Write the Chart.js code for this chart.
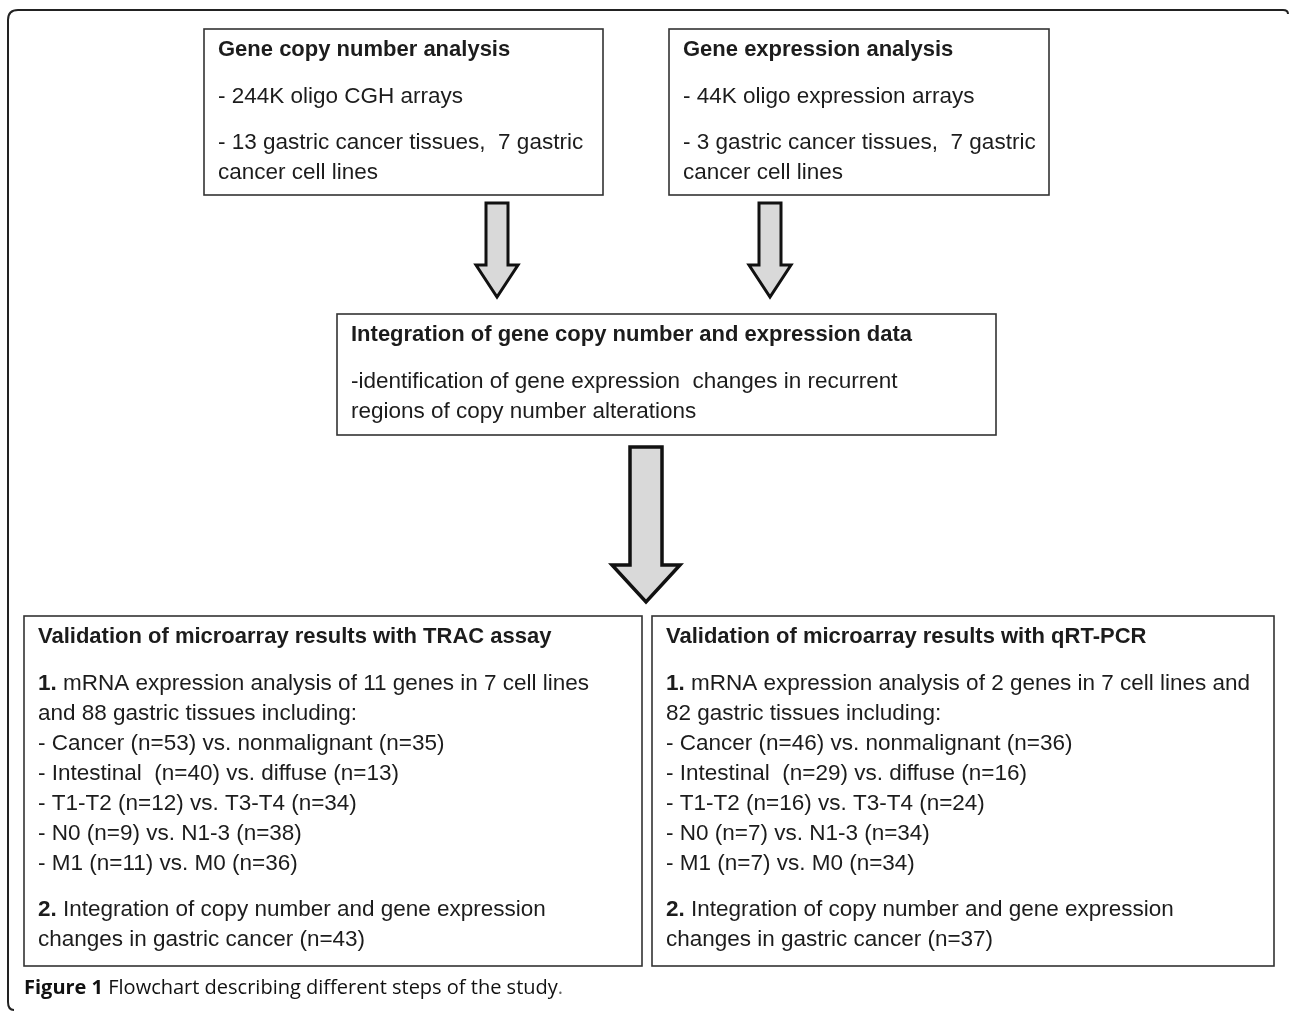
<!DOCTYPE html>
<html>
<head>
<meta charset="utf-8">
<script src="https://cdn.jsdelivr.net/npm/chart.js@4.4.0/dist/chart.umd.min.js"></script>
<style>
  html, body { margin: 0; background: #fff; }
  canvas { display: block; }
</style>
</head>
<body>
<canvas id="flowChart" width="1290" height="1012"></canvas>
<script>
// Box texts
const boxTitles = [
  "Gene copy number analysis",
  "Gene expression analysis",
  "Integration of gene copy number and expression data",
  "Validation of microarray results with TRAC assay",
  "Validation of microarray results with qRT-PCR"
];
const copyNumberText = [
  ["- 244K oligo CGH arrays"],
  ["- 13 gastric cancer tissues,  7 gastric", "cancer cell lines"]
];
const expressionText = [
  ["- 44K oligo expression arrays"],
  ["- 3 gastric cancer tissues,  7 gastric", "cancer cell lines"]
];
const integrationText = [
  ["-identification of gene expression  changes in recurrent", "regions of copy number alterations"]
];
const tracText = [
  ["1. mRNA expression analysis of 11 genes in 7 cell lines",
   "and 88 gastric tissues including:",
   "- Cancer (n=53) vs. nonmalignant (n=35)",
   "- Intestinal  (n=40) vs. diffuse (n=13)",
   "- T1-T2 (n=12) vs. T3-T4 (n=34)",
   "- N0 (n=9) vs. N1-3 (n=38)",
   "- M1 (n=11) vs. M0 (n=36)"],
  ["2. Integration of copy number and gene expression",
   "changes in gastric cancer (n=43)"]
];
const qpcrText = [
  ["1. mRNA expression analysis of 2 genes in 7 cell lines and",
   "82 gastric tissues including:",
   "- Cancer (n=46) vs. nonmalignant (n=36)",
   "- Intestinal  (n=29) vs. diffuse (n=16)",
   "- T1-T2 (n=16) vs. T3-T4 (n=24)",
   "- N0 (n=7) vs. N1-3 (n=34)",
   "- M1 (n=7) vs. M0 (n=34)"],
  ["2. Integration of copy number and gene expression",
   "changes in gastric cancer (n=37)"]
];
const captionBold = "Figure 1";
const captionText = " Flowchart describing different steps of the study";

const boxBodies = [copyNumberText, expressionText, integrationText, tracText, qpcrText];

// layout (in axis units, 0..1290 x 0..1012)
const boxFrames = [
  [204, 29, 603, 195],
  [669, 29, 1049, 195],
  [337, 314, 996, 435],
  [24, 616, 642, 966],
  [652, 616, 1274, 966]
];
// [centerX, top, headStart, tip, shaftHalf, headHalf, lineWidth]
const arrowFrames = [
  [497, 203, 265, 297, 11, 21, 3],
  [770, 203, 265, 297, 11, 21, 3],
  [646, 447, 565, 602, 16, 34, 3.5]
];

const FONT = '"Liberation Sans", sans-serif';
const TEXT_COLOR = "#1c1c1c";

function drawFlow(chart) {
  const ctx = chart.ctx;
  const xs = chart.scales.x, ys = chart.scales.y;
  const px = v => xs.getPixelForValue(v);
  const py = v => ys.getPixelForValue(v);

  ctx.save();
  // outer frame (top + left edges, rounded corners)
  ctx.strokeStyle = "#222";
  ctx.lineWidth = 2;
  ctx.beginPath();
  ctx.moveTo(px(14), py(1010));
  ctx.quadraticCurveTo(px(8), py(1010), px(8), py(1002));
  ctx.lineTo(px(8), py(20));
  ctx.quadraticCurveTo(px(8), py(10), px(18), py(10));
  ctx.lineTo(px(1283), py(10));
  ctx.quadraticCurveTo(px(1288), py(10), px(1288), py(14));
  ctx.stroke();

  // boxes
  boxFrames.forEach((f, i) => {
    const x0 = px(f[0]), y0 = py(f[1]), x1 = px(f[2]), y1 = py(f[3]);
    ctx.fillStyle = "#fff";
    ctx.fillRect(x0, y0, x1 - x0, y1 - y0);
    ctx.strokeStyle = "#333";
    ctx.lineWidth = 1.6;
    ctx.strokeRect(x0, y0, x1 - x0, y1 - y0);

    const tx = px(f[0] + 14);
    ctx.fillStyle = TEXT_COLOR;
    ctx.textBaseline = "middle";
    ctx.textAlign = "left";
    ctx.font = "bold 22px " + FONT;
    ctx.fillText(boxTitles[i], tx, py(f[1] + 21));

    let y = f[1] + 68;
    boxBodies[i].forEach((para, pi) => {
      if (pi > 0) y += 16;
      para.forEach(line => {
        const m = line.match(/^(\d\.)(.*)$/);
        let x = tx;
        if (m) {
          ctx.font = "bold 22.5px " + FONT;
          ctx.fillText(m[1], x, py(y));
          x += ctx.measureText(m[1]).width;
          ctx.font = "22.5px " + FONT;
          ctx.fillText(m[2], x, py(y));
        } else {
          ctx.font = "22.5px " + FONT;
          ctx.fillText(line, x, py(y));
        }
        y += 30;
      });
    });
  });

  // arrows
  arrowFrames.forEach(a => {
    const [cx, top, hs, tip, sh, hh, lw] = a;
    ctx.beginPath();
    ctx.moveTo(px(cx - sh), py(top));
    ctx.lineTo(px(cx + sh), py(top));
    ctx.lineTo(px(cx + sh), py(hs));
    ctx.lineTo(px(cx + hh), py(hs));
    ctx.lineTo(px(cx), py(tip));
    ctx.lineTo(px(cx - hh), py(hs));
    ctx.lineTo(px(cx - sh), py(hs));
    ctx.closePath();
    ctx.fillStyle = "#d9d9d9";
    ctx.fill();
    ctx.strokeStyle = "#111";
    ctx.lineWidth = lw;
    ctx.lineJoin = "miter";
    ctx.stroke();
  });

  // caption
  ctx.fillStyle = "#111";
  ctx.textBaseline = "middle";
  ctx.font = 'bold 20px "Open Sans", sans-serif';
  ctx.fillText(captionBold, px(24), py(988));
  const bw = ctx.measureText(captionBold).width;
  ctx.font = '20px "Open Sans", sans-serif';
  ctx.fillText(captionText, px(24) + bw, py(988));
  const cw = ctx.measureText(captionText).width;
  ctx.fillStyle = "#666";
  ctx.fillText(".", px(24) + bw + cw, py(988));
  ctx.restore();
}

new Chart(document.getElementById("flowChart"), {
  type: "scatter",
  data: { datasets: [{ data: [], pointRadius: 0 }] },
  options: {
    responsive: false,
    animation: false,
    devicePixelRatio: 1,
    layout: { padding: 0 },
    plugins: { legend: { display: false }, tooltip: { enabled: false } },
    scales: {
      x: { type: "linear", min: 0, max: 1290, display: false },
      y: { type: "linear", min: 0, max: 1012, reverse: true, display: false }
    }
  },
  plugins: [{ id: "flow", afterDraw: drawFlow }]
});
</script>
</body>
</html>
